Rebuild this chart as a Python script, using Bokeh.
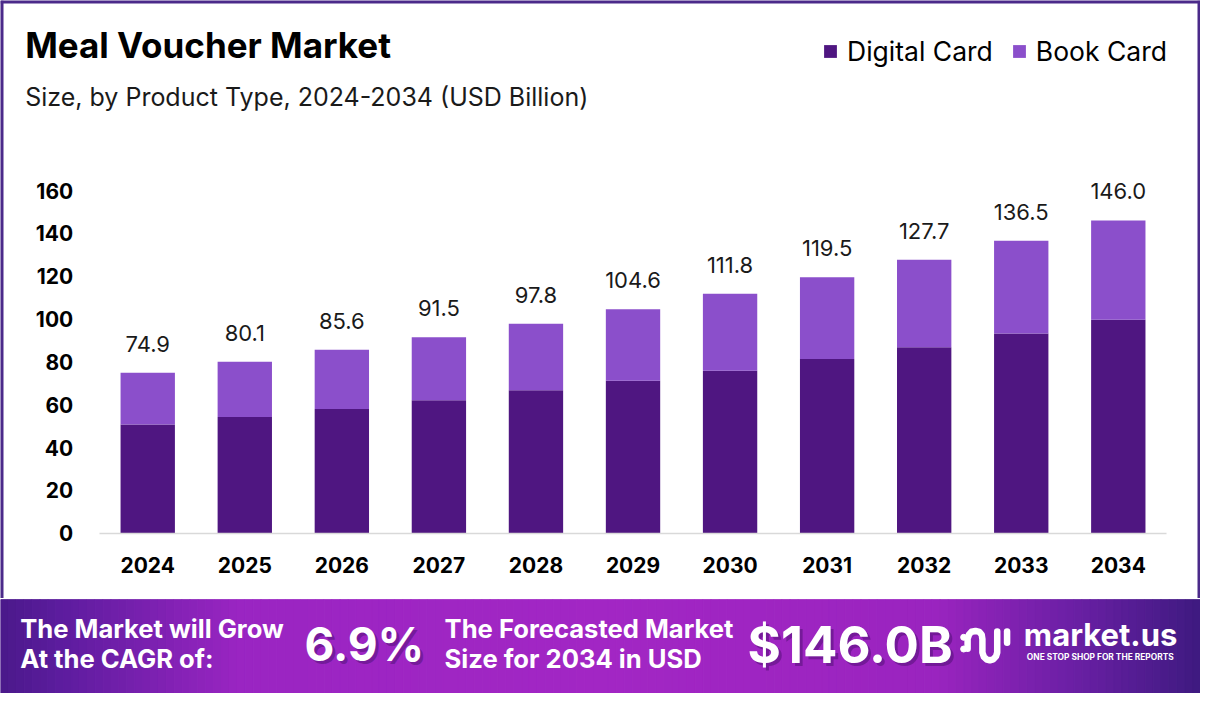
from bokeh.plotting import figure
from bokeh.models import (ColumnDataSource, Range1d, FixedTicker, LabelSet, Label, Span)
from bokeh.layouts import column
from bokeh.embed import file_html
from bokeh.resources import INLINE
from bokeh.core.properties import value

# ---------------- data ----------------
years = ["2024", "2025", "2026", "2027", "2028", "2029", "2030", "2031", "2032", "2033", "2034"]
digital_card = [50.7, 54.3, 58.0, 62.1, 66.7, 71.2, 75.8, 81.3, 86.8, 93.2, 99.7]
book_card = [24.2, 25.8, 27.6, 29.4, 31.1, 33.4, 36.0, 38.2, 40.9, 43.3, 46.3]
totals = [74.9, 80.1, 85.6, 91.5, 97.8, 104.6, 111.8, 119.5, 127.7, 136.5, 146.0]
y_ticks = [0, 20, 40, 60, 80, 100, 120, 140, 160]
series_names = ["Digital Card", "Book Card"]
cagr_text = "6.9%"
forecast_text = "$146.0B"

# ---------------- layout / styling ----------------
FONT = "Inter"
DIGITAL_COLOR = "#4f1681"
BOOK_COLOR = "#8b4fcb"
BORDER_COLOR = "#4b2a8a"

REF_W, REF_H = 1216, 709
W = 1200
H_TOTAL = 693
SX = W / REF_W
SY = H_TOTAL / REF_H
H = 598                     # chart canvas height
HB = H_TOTAL - H            # banner height

# reference-pixel geometry of the plotting area
REF_X0 = 149.2              # centre of first bar
REF_STEP = 98.35            # distance between bar centres
REF_Y0 = 545.0              # value 0
REF_Y160 = 194.4            # value 160

px_per_cat = REF_STEP * SX
x_start = -(REF_X0 * SX) / px_per_cat
x_end = x_start + W / px_per_cat
ppu = ((REF_Y0 - REF_Y160) * SY) / 160.0
y_end = (REF_Y0 * SY) / ppu
y_start = -(H - REF_Y0 * SY) / ppu


def sx(rx):
    return rx * SX


def sy(ry):
    return H - ry * SY


xs = list(range(len(years)))
source = ColumnDataSource(dict(
    x=xs,
    digital=digital_card,
    book=book_card,
    total=totals,
    label=[f"{t:.1f}" for t in totals],
))

p = figure(x_range=Range1d(x_start, x_end), y_range=Range1d(y_start, y_end),
           width=W, height=H, output_backend="svg", toolbar_location=None,
           min_border=0, title=None)
p.outline_line_color = None
p.background_fill_color = "white"
p.border_fill_color = "white"

p.vbar_stack(["digital", "book"], x="x", width=0.56, source=source,
             color=[DIGITAL_COLOR, BOOK_COLOR], line_color=None,
             legend_label=series_names)

p.add_layout(LabelSet(x="x", y="total", text="label", source=source,
                      y_offset=29, text_align="center", text_baseline="middle",
                      text_font=value(FONT), text_font_size=value("22px"),
                      text_color="#1a1a1a"))

p.xgrid.grid_line_color = None
p.ygrid.grid_line_color = None

xa = p.xaxis[0]
xa.fixed_location = 0
xa.bounds = (-0.5, len(years) - 0.5)
xa.ticker = FixedTicker(ticks=xs)
xa.major_label_overrides = {i: y for i, y in zip(xs, years)}
xa.axis_line_color = "#d9d9d9"
xa.axis_line_width = 1.5
xa.major_tick_line_color = None
xa.minor_tick_line_color = None
xa.major_label_text_font = FONT
xa.major_label_text_font_style = "bold"
xa.major_label_text_font_size = "21px"
xa.major_label_text_color = "#000000"
xa.major_label_standoff = 18

ya = p.yaxis[0]
ya.fixed_location = -0.5
ya.ticker = FixedTicker(ticks=y_ticks)
ya.axis_line_color = None
ya.major_tick_line_color = None
ya.minor_tick_line_color = None
ya.major_label_text_font = FONT
ya.major_label_text_font_style = "bold"
ya.major_label_text_font_size = "21px"
ya.major_label_text_color = "#000000"
ya.major_label_standoff = 20

leg = p.legend[0]
leg.orientation = "horizontal"
leg.location = (sx(833), sy(52) - 16)
leg.glyph_width = 16
leg.glyph_height = 16
leg.label_standoff = 9
leg.spacing = 18
leg.padding = 0
leg.margin = 0
leg.border_line_color = None
leg.background_fill_alpha = 0
leg.label_text_font = FONT
leg.label_text_font_size = "26.5px"
leg.label_text_color = "#000000"

# text labels are anchored at the vertical centre of their capitals
p.add_layout(Label(x=sx(25), y=sy(45.3), x_units="screen", y_units="screen",
                   text="Meal Voucher Market", text_font=FONT,
                   text_font_style="bold", text_font_size="35px",
                   text_color="#000000", text_baseline="middle"))
p.add_layout(Label(x=sx(25), y=sy(98.4), x_units="screen", y_units="screen",
                   text="Size, by Product Type, 2024-2034 (USD Billion)",
                   text_font=FONT, text_font_size="25px",
                   text_color="#1a1a1a", text_baseline="middle"))

# frame border (left, top, right)
for loc, dim in [(x_start, "height"), (x_end, "height"), (y_end, "width")]:
    p.add_layout(Span(location=loc, dimension=dim, line_color=BORDER_COLOR, line_width=6))

# ---------------- banner ----------------
b = figure(x_range=Range1d(0, REF_W), y_range=Range1d(REF_H, REF_H - HB / SY),
           width=W, height=HB, output_backend="svg", toolbar_location=None,
           min_border=0, x_axis_type=None, y_axis_type=None, title=None)
b.outline_line_color = None
b.xgrid.grid_line_color = None
b.ygrid.grid_line_color = None
b.border_fill_color = "white"
b.background_fill_color = "white"

stops = [(0.0, (0x4a, 0x19, 0x8a)), (0.05, (0x5c, 0x1c, 0x9e)), (0.2, (0x9a, 0x25, 0xc2)),
         (0.5, (0xa2, 0x26, 0xc4)), (0.78, (0x9a, 0x24, 0xbf)), (0.9, (0x68, 0x1f, 0xa3)),
         (1.0, (0x3e, 0x1a, 0x80))]


def grad(t):
    for (t0, c0), (t1, c1) in zip(stops[:-1], stops[1:]):
        if t0 <= t <= t1:
            f = (t - t0) / (t1 - t0)
            return "#%02x%02x%02x" % tuple(int(round(a + (bb - a) * f)) for a, bb in zip(c0, c1))
    return "#%02x%02x%02x" % stops[-1][1]


step = 8
lefts = list(range(0, REF_W, step))
cols = [grad((l + step / 2) / REF_W) for l in lefts]
b.quad(left=lefts, right=[l + step for l in lefts], top=613, bottom=REF_H,
       fill_color=cols, line_color=cols, line_width=1)


def btxt(x, y, text, size, bold=True, color="white", alpha=1.0):
    b.add_layout(Label(x=x, y=y, text=text, text_font=FONT,
                       text_font_style="bold" if bold else "normal",
                       text_font_size=size, text_color=color, text_alpha=alpha,
                       text_baseline="middle"))


btxt(20, 643, "The Market will Grow", "25.6px")
btxt(20, 673, "At the CAGR of:", "25.6px")
btxt(311, 661.5, cagr_text, "46px", color="#2a0650", alpha=0.35)
btxt(308, 658.5, cagr_text, "46px")
btxt(450, 643, "The Forecasted Market", "25.6px")
btxt(450, 673, "Size for 2034 in USD", "25.6px")
btxt(760, 661.5, forecast_text, "51px", color="#2a0650", alpha=0.35)
btxt(757, 658.5, forecast_text, "51px")
btxt(1037, 648.5, "market.us", "31px")
btxt(1040, 671.5, "ONE STOP SHOP FOR THE REPORTS", "8.4px")

# logo icon
b.scatter(x=[976, 976], y=[651.5, 663.5], size=6, color="white", marker="circle")
b.line(x=[980, 980, 981.5, 984, 988, 992, 994.3, 995, 995, 996.5, 999.5, 1002.5, 1006, 1008.8, 1010, 1010],
       y=[663.3, 653, 648.5, 645.8, 645, 646, 649, 653.5, 667, 671.5, 674.3, 675, 674, 671, 667, 645.5],
       line_width=6.5, color="white", line_cap="round", line_join="round")
b.line(x=[1020, 1020], y=[645.5, 657], line_width=6.5, color="white", line_cap="round")

layout = column(p, b, spacing=0)
open("out.html", "w").write(file_html(layout, INLINE))
